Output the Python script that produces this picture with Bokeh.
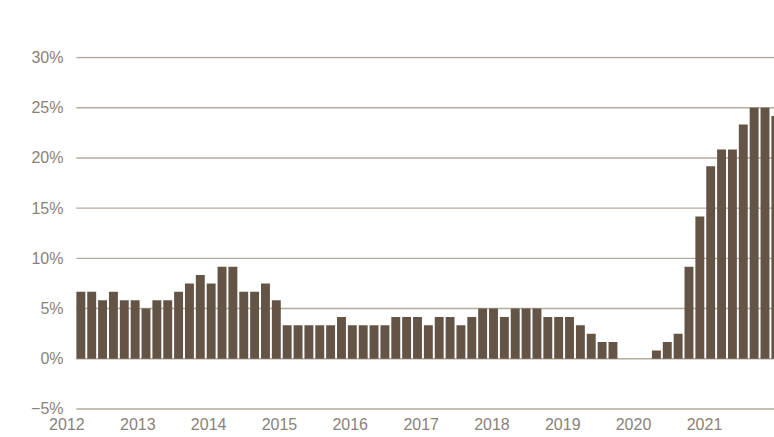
import pandas as pd
from bokeh.plotting import figure
from bokeh.models import Range1d, FixedTicker, DatetimeTickFormatter
from bokeh.embed import file_html
from bokeh.resources import INLINE

# values (percent), one bar per 8-week period
share = [6.67, 6.67, 5.83, 6.67, 5.83, 5.83, 5.0, 5.83, 5.83, 6.67,
         7.5, 8.33, 7.5, 9.17, 9.17, 6.67, 6.67, 7.5, 5.83, 3.33,
         3.33, 3.33, 3.33, 3.33, 4.17, 3.33, 3.33, 3.33, 3.33, 4.17,
         4.17, 4.17, 3.33, 4.17, 4.17, 3.33, 4.17, 5.0, 5.0, 4.17,
         5.0, 5.0, 5.0, 4.17, 4.17, 4.17, 3.33, 2.5, 1.67, 1.67,
         0.0, 0.0, 0.0, 0.83, 1.67, 2.5, 9.17, 14.17, 19.17, 20.83,
         20.83, 23.33, 25.0, 25.0, 24.17]
first_period = "2012-03-13"
period_freq = "56D"

year_labels = ["2012", "2013", "2014", "2015", "2016", "2017",
               "2018", "2019", "2020", "2021", "2022"]
y_ticks = [-5, 0, 5, 10, 15, 20, 25, 30]
y_labels = ["\u22125%", "0%", "5%", "10%", "15%", "20%", "25%", "30%"]

periods = pd.date_range(first_period, periods=len(share), freq=period_freq)
year_ms = [pd.Timestamp(f"{y}-01-01").timestamp() * 1000 for y in year_labels]

BAR = "#635446"
GRID = "#b3ab9c"
TXT = "#8a8178"
FONT = "Liberation Sans"

x_start = pd.Timestamp("2011-12-30")
x_end = x_start + pd.Timedelta(days=3651)
half = pd.Timedelta(days=23)

p = figure(width=774, height=437, x_axis_type="datetime",
           x_range=Range1d(x_start, x_end), y_range=Range1d(-5.25, 30.1),
           output_backend="svg", toolbar_location=None,
           min_border_left=66, min_border_right=0, min_border_top=56,
           min_border_bottom=26)
p.xgrid.grid_line_color = None
p.ygrid.grid_line_color = None
p.outline_line_color = None
p.background_fill_color = "white"
p.border_fill_color = "white"

n = len(y_ticks)
p.segment(x0=[periods[0] - half] * n, y0=y_ticks, x1=[x_end] * n, y1=y_ticks,
          line_color=GRID, line_width=1.4)

p.vbar(x=periods, top=share, bottom=0, width=46 * 86400000,
       fill_color=BAR, line_color=None)

for ax in (p.xaxis, p.yaxis):
    ax.axis_line_color = None
    ax.major_tick_line_color = None
    ax.minor_tick_line_color = None
    ax.major_tick_out = 0
    ax.major_tick_in = 0
    ax.major_label_text_font = FONT
    ax.major_label_text_font_size = "16px"
    ax.major_label_text_color = TXT

p.yaxis.ticker = FixedTicker(ticks=y_ticks)
p.yaxis.major_label_overrides = dict(zip(y_ticks, y_labels))
p.yaxis.major_label_standoff = 3

p.xaxis.ticker = FixedTicker(ticks=year_ms)
p.xaxis.formatter = DatetimeTickFormatter(
    years="%Y", months="%Y", days="%Y", hours="%Y", minutes="%Y",
    seconds="%Y", milliseconds="%Y", microseconds="%Y", minsec="%Y",
    hourmin="%Y")
p.xaxis.major_label_standoff = 6

open("out.html", "w").write(file_html(p, INLINE))
